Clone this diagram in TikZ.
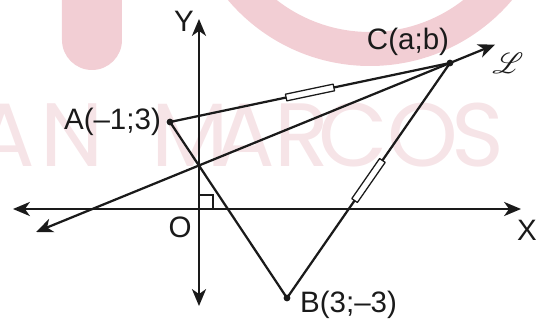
\documentclass[tikz,border=0pt]{standalone}
\usepackage{fontspec}
\setmainfont{Liberation Sans}
\newfontfamily\wmfont{Poppins}
\usepackage{amsmath,amssymb}
\usepackage{mathrsfs}
\usepackage{tikz}
\usetikzlibrary{arrows.meta,calc,positioning}
\usepackage{xcolor}
\definecolor{wmpink}{HTML}{F2CED4}
\definecolor{wmtext}{HTML}{F6E4E7}
\definecolor{ink}{HTML}{1A1A1A}

\begin{document}
\begin{tikzpicture}[>={Stealth[length=12pt,width=10pt,inset=3.5pt]},line width=1.6pt,
  lbl/.style={font=\fontsize{21}{25}\selectfont,inner sep=0pt,text=ink},
  wm/.style={font=\wmfont\fontsize{64}{68}\selectfont,text=wmtext,inner sep=0pt},
  tickbox/.style={draw=ink,fill=white,line width=0.9pt,minimum width=1.22cm,minimum height=0.17cm,inner sep=0pt,sloped}]
  \clip (-4.975,-2.825) rectangle (8.55,5.225);
  % watermark
  \fill[wmpink] (-3.425,5.4) -- (-3.425,4.225) arc[start angle=180,end angle=360,radius=0.75] -- (-1.925,5.4) -- cycle;
  \fill[wmpink,even odd rule] (4.275,8.225) circle (4.65) circle (3.8);
  \foreach \ch/\px [count=\i] in {A/-4.85,N/-3.175,M/-0.225,A/1.15,R/2.575,C/3.85,O/5.6,S/6.975}
    \node[wm] (wm\i) at (\px,1.84) {\ch};
  % points
  \coordinate (O) at (0,0);
  \coordinate (A) at (-0.725,2.175);
  \coordinate (B) at (2.2,-2.225);
  \coordinate (C) at (6.275,3.65);
  \coordinate (xl) at (-4.65,0);
  \coordinate (xr) at (8.05,0);
  \coordinate (yb) at (0,-2.425);
  \coordinate (yt) at (0,4.75);
  \coordinate (l1) at (-4.075,-0.575);
  \coordinate (l2) at ($(l1)!1.109!(C)$);
  % axes and line L
  \draw[ink,<->] (xl) -- (xr);
  \draw[ink,<->] (yb) -- (yt);
  \draw[ink,<->] (l1) -- (l2);
  \draw[ink,line width=1pt] (O) rectangle ++(0.35,0.35);
  % triangle
  \draw[ink,line join=round] (A) -- node[tickbox]{} (C) -- node[tickbox]{} (B) -- cycle;
  \fill[ink] (A) circle (2.4pt);
  \fill[ink] (B) circle (2.4pt);
  \fill[ink] (C) circle (2.4pt);
  % labels
  \node[lbl,left=0.2cm of A] (Alab) {A(–1;3)};
  \node[lbl,anchor=west] (Blab) at (2.5,-2.4) {B(3;–3)};
  \node[lbl] (Clab) at (5.225,4.175) {C(a;b)};
  \node[lbl] (Llab) at (7.725,3.65) {$\mathscr{L}$};
  \node[lbl] (Olab) at (-0.475,-0.45) {O};
  \node[lbl] (Xlab) at (8.2,-0.525) {X};
  \node[lbl] (Ylab) at (-0.375,4.7) {Y};
\end{tikzpicture}
\end{document}
